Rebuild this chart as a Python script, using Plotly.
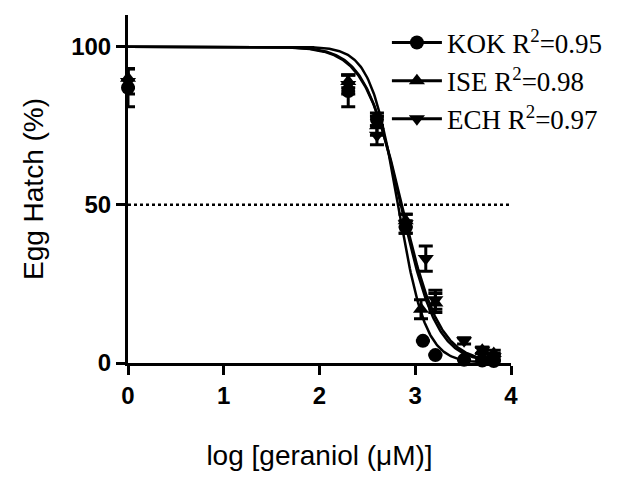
import numpy as np
import plotly.graph_objects as go

# Data (log concentration, % egg hatch, SEM)
kok_x = [0, 2.3, 2.6, 2.9, 3.08, 3.21, 3.51, 3.7, 3.82]
kok_y = [87, 86, 77, 43, 7, 2.5, 1, 0.8, 0.6]
kok_e = [6, 5, 2, 2, 0, 0, 0, 0, 0]

ise_x = [0, 2.3, 2.6, 2.9, 3.06, 3.21, 3.7, 3.82]
ise_y = [90, 89, 75, 45, 17, 19, 4, 3]
ise_e = [3, 2, 3, 2, 3, 3, 1, 1]

ech_x = [0, 2.3, 2.6, 2.9, 3.11, 3.21, 3.51, 3.7, 3.82]
ech_y = [89, 88, 72, 44, 33, 20, 7, 4, 2]
ech_e = [4, 3, 3, 3, 4, 3, 1, 1, 1]

# Fitted dose-response parameters (logIC50, Hill slope)
series_names = ["KOK R<sup>2</sup>=0.95", "ISE R<sup>2</sup>=0.98", "ECH R<sup>2</sup>=0.97"]
log_ic50 = [2.82, 2.85, 2.86]
hill = [3.0, 2.3, 2.2]
symbols = ["circle", "triangle-up", "triangle-down"]

fig = go.Figure()
xc = np.linspace(0, 3.85, 400)
datasets = [(kok_x, kok_y, kok_e), (ise_x, ise_y, ise_e), (ech_x, ech_y, ech_e)]
for i, (xs, ys, es) in enumerate(datasets):
    yc = 100 / (1 + 10 ** ((xc - log_ic50[i]) * hill[i]))
    fig.add_trace(go.Scatter(x=xc, y=yc, mode="lines", line=dict(color="black", width=2.5),
                             showlegend=False, hoverinfo="skip", cliponaxis=False))
    fig.add_trace(go.Scatter(x=xs, y=ys, mode="markers",
                             marker=dict(symbol=symbols[i], size=14, color="black"),
                             error_y=dict(type="data", array=es, color="black", thickness=3, width=7),
                             showlegend=False, cliponaxis=False))
    fig.add_trace(go.Scatter(x=[None], y=[None], mode="lines+markers", name=series_names[i],
                             marker=dict(symbol=symbols[i], size=14, color="black"),
                             line=dict(color="black", width=3)))

fig.add_shape(type="line", x0=0, x1=4, y0=50, y1=50, line=dict(color="black", width=2.5, dash="dot"))

fig.update_layout(
    width=611, height=478,
    margin=dict(l=120, r=108, t=7, b=123),
    plot_bgcolor="white", paper_bgcolor="white",
    legend=dict(x=0.676, y=0.99, xanchor="left", yanchor="top",
                font=dict(family="Liberation Serif", size=27, color="black"),
                bgcolor="rgba(0,0,0,0)", itemwidth=50, tracegroupgap=0),
    xaxis=dict(range=[0, 4], tickvals=[0, 1, 2, 3, 4], showgrid=False, zeroline=False,
               showline=True, linecolor="black", linewidth=3, automargin=False,
               ticks="outside", ticklen=9, tickwidth=3, tickcolor="black",
               tickfont=dict(family="Liberation Sans", size=24, color="black", weight="bold"),
               title=dict(text="log [geraniol (μM)]", standoff=38,
                          font=dict(family="Liberation Sans", size=28, color="black"))),
    yaxis=dict(range=[0, 110], tickvals=[0, 50, 100], showgrid=False, zeroline=False,
               showline=True, linecolor="black", linewidth=3, automargin=False,
               ticks="outside", ticklen=9, tickwidth=3, tickcolor="black",
               tickfont=dict(family="Liberation Sans", size=24, color="black", weight="bold"),
               title=dict(text="Egg Hatch (%)", standoff=20,
                          font=dict(family="Liberation Sans", size=28, color="black"))),
)

fig.write_html("out.html")
